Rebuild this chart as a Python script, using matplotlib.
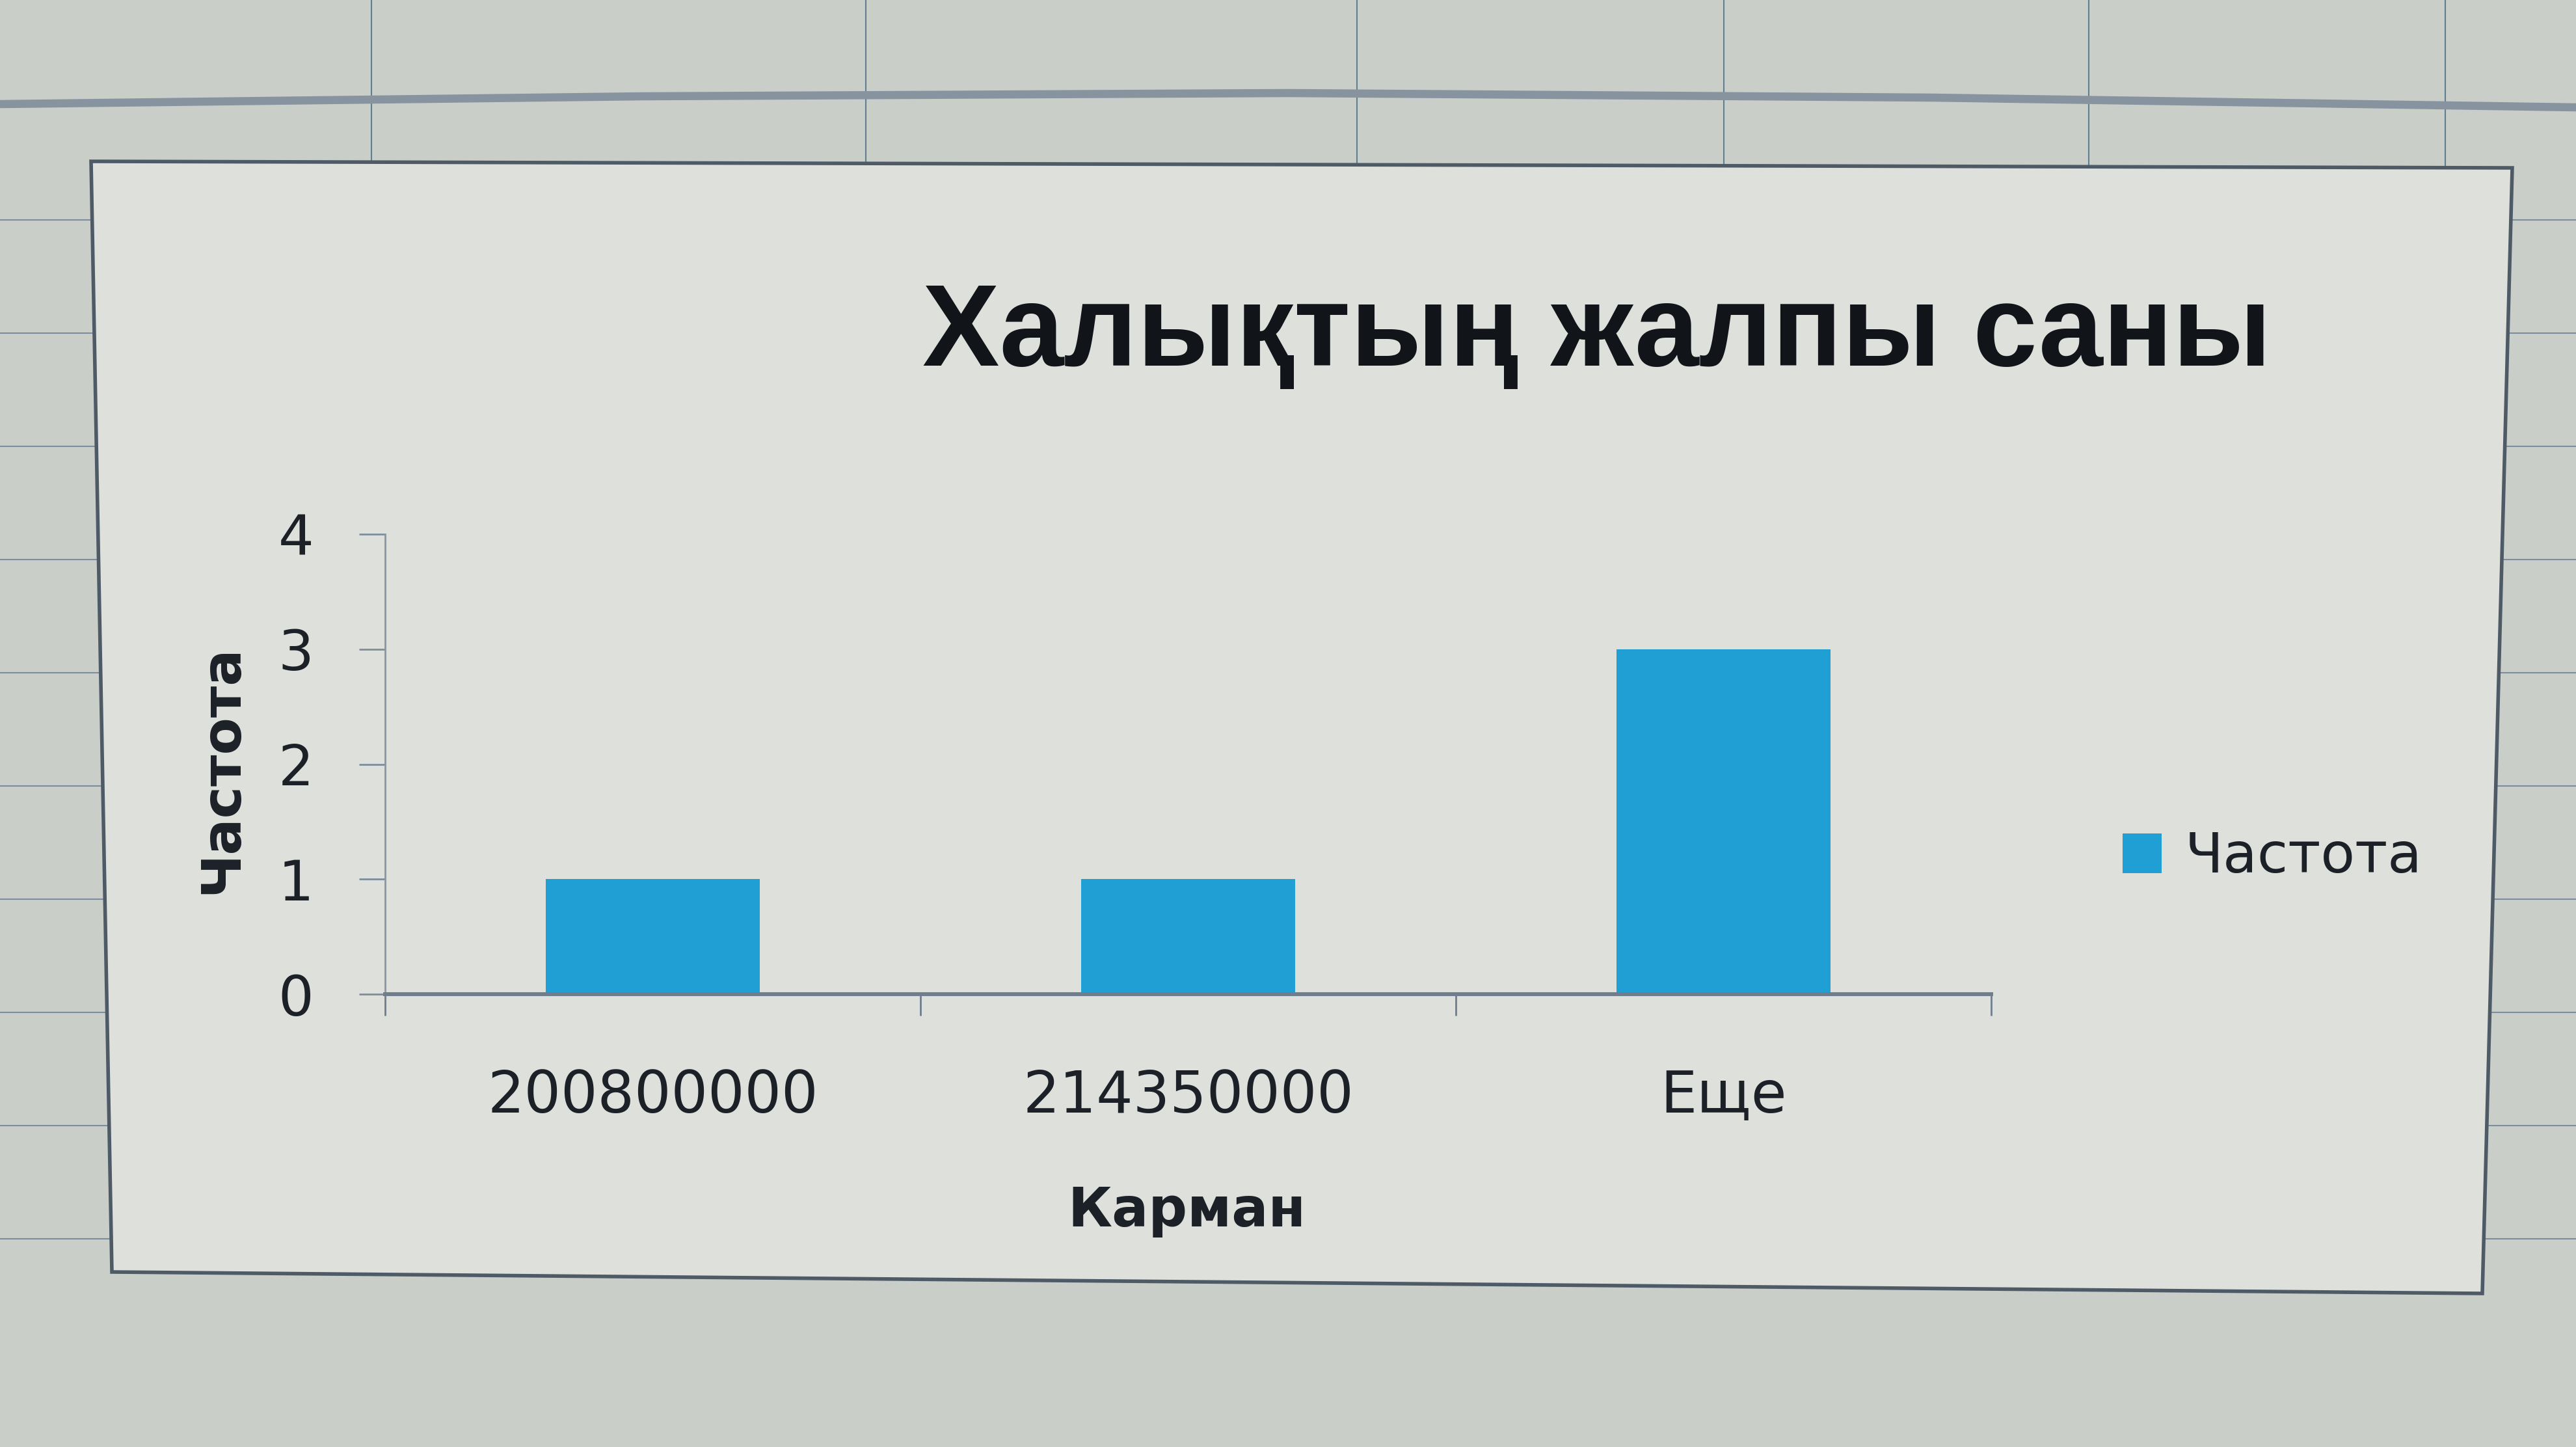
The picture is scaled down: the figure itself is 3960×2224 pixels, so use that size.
import matplotlib
matplotlib.use('Agg')
import matplotlib.pyplot as plt
from matplotlib.patches import Polygon
from matplotlib.lines import Line2D

# ---- data ----
categories = ['200800000', '214350000', 'Еще']
frequency = [1, 1, 3]
y_ticks = [0, 1, 2, 3, 4]
title_text = 'Халықтың жалпы саны'
x_label = 'Карман'
y_label = 'Частота'
series_name = 'Частота'

plt.rcParams['font.family'] = ['DejaVu Sans']

W, H = 3960, 2224
DPI = 100
fig = plt.figure(figsize=(W / DPI, H / DPI), dpi=DPI, facecolor='#c9cec9')


def fx(px):
    return px / W


def fy(py):
    return 1 - py / H


# spreadsheet background grid (decoration)
for gx in [571, 1331, 2086, 2650, 3211, 3759]:
    fig.add_artist(Line2D([fx(gx), fx(gx)], [fy(0), fy(260)], color='#5f7f93',
                          lw=1.5, zorder=-3))
for k in range(10):
    gy = 338 + 174 * k
    fig.add_artist(Line2D([0, 1], [fy(gy), fy(gy)], color='#7d8da0', lw=1.5, zorder=-3))
fig.add_artist(Line2D([0, 0.25, 0.5, 0.75, 1], [fy(160), fy(148), fy(143), fy(150), fy(165)],
                      color='#8893a0', lw=9, zorder=-3))

# chart area
chart = Polygon([(fx(140), fy(248)), (fx(3862), fy(258)), (fx(3816), fy(1988)), (fx(172), fy(1955))],
                closed=True, transform=fig.transFigure, facecolor='#dee1db',
                edgecolor='#4e5a66', lw=4, zorder=-2)
fig.add_artist(chart)

# plot area
ax = fig.add_axes([fx(592), fy(1528), (3061 - 592) / W, (1528 - 821) / H])
ax.patch.set_visible(False)
xpos = list(range(len(categories)))
bars = ax.bar(xpos, frequency, width=0.40, color='#1f9fd3', label=series_name, zorder=2)
ax.set_xlim(-0.5, len(categories) - 0.5)
ax.set_ylim(y_ticks[0], y_ticks[-1])
ax.set_yticks(y_ticks)
ax.set_yticklabels([str(v) for v in y_ticks])
ax.set_xticks(xpos)
ax.set_xticklabels(categories)
ax.set_xticks([p - 0.5 for p in xpos] + [xpos[-1] + 0.5], minor=True)
txt = '#1c2128'
ax.tick_params(axis='x', which='major', length=0, pad=82, labelsize=64, labelcolor=txt)
ax.tick_params(axis='x', which='minor', length=24, width=2, color='#6f7d8c', direction='out')
ax.tick_params(axis='y', which='major', length=29, width=2, color='#7f8c99', pad=50,
               labelsize=62, labelcolor=txt)
for s in ['top', 'right']:
    ax.spines[s].set_visible(False)
ax.spines['bottom'].set_color('#6f7d8c')
ax.spines['bottom'].set_linewidth(4.3)
ax.spines['left'].set_color('#8a96a3')
ax.spines['left'].set_linewidth(2.0)

# texts
fig.text(fx(2455), fy(562), title_text, ha='center', va='baseline', fontsize=128,
         fontweight='bold', family=['Liberation Sans', 'DejaVu Sans'], color='#111418')
fig.text(fx(341), fy(1182), y_label, rotation=90, ha='center', va='center', fontsize=60,
         fontweight='bold', color=txt)
fig.text(fx(1824), fy(1862), x_label, ha='center', va='center', fontsize=60,
         fontweight='bold', color=txt)

# legend
fig.legend(handles=[bars], labels=[series_name], loc='center left',
           bbox_to_anchor=(fx(3263), fy(1318)), bbox_transform=fig.transFigure,
           frameon=False, fontsize=62, handlelength=0.70, handleheight=0.70,
           handletextpad=0.41, borderpad=0, borderaxespad=0, labelcolor=txt)

fig.savefig('out.png', dpi=DPI, facecolor=fig.get_facecolor())
